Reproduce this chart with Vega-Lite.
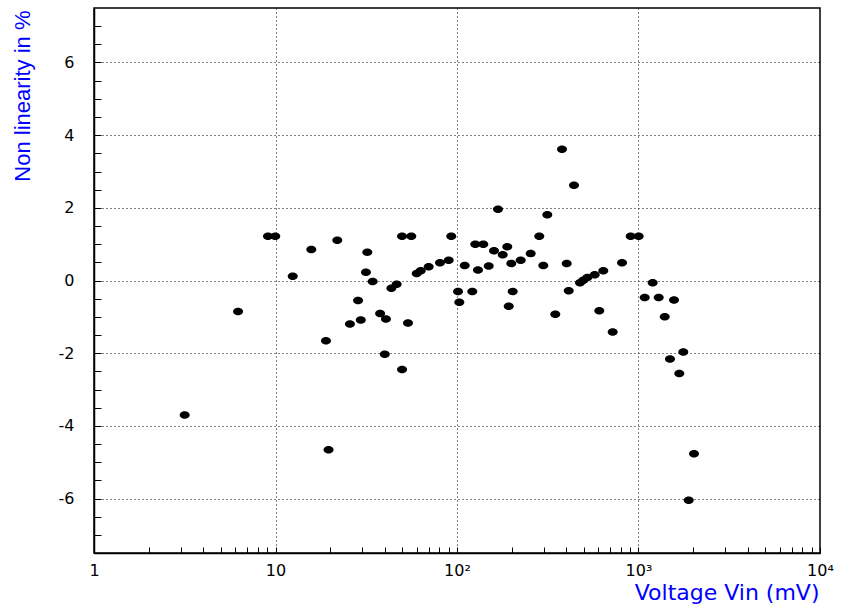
{
  "$schema": "https://vega.github.io/schema/vega-lite/v6.json",
  "width": 726,
  "height": 545,
  "autosize": "none",
  "padding": {"left": 94, "top": 8, "right": 24, "bottom": 54},
  "background": "white",
  "config": {"view": {"stroke": "#000", "strokeWidth": 1.5}},
  "data": {"values": [
    {"v": 3.16, "nl": -3.70}, {"v": 6.22, "nl": -0.85}, {"v": 9.09, "nl": 1.22}, {"v": 9.97, "nl": 1.22},
    {"v": 12.44, "nl": 0.12}, {"v": 15.75, "nl": 0.85}, {"v": 18.97, "nl": -1.66}, {"v": 19.6, "nl": -4.66},
    {"v": 21.9, "nl": 1.11}, {"v": 25.7, "nl": -1.20}, {"v": 28.5, "nl": -0.55}, {"v": 29.5, "nl": -1.09},
    {"v": 31.5, "nl": 0.23}, {"v": 32.05, "nl": 0.78}, {"v": 34.3, "nl": -0.03}, {"v": 37.7, "nl": -0.91},
    {"v": 40.0, "nl": -2.03}, {"v": 40.6, "nl": -1.06}, {"v": 43.5, "nl": -0.21}, {"v": 46.5, "nl": -0.10},
    {"v": 49.8, "nl": 1.22}, {"v": 49.8, "nl": -2.45}, {"v": 53.7, "nl": -1.17}, {"v": 56.0, "nl": 1.22},
    {"v": 60.0, "nl": 0.19}, {"v": 63.1, "nl": 0.27}, {"v": 69.8, "nl": 0.38}, {"v": 80.6, "nl": 0.49},
    {"v": 90.0, "nl": 0.56}, {"v": 93.0, "nl": 1.22}, {"v": 101.3, "nl": -0.30}, {"v": 103.0, "nl": -0.60},
    {"v": 110.3, "nl": 0.41}, {"v": 121.4, "nl": -0.30}, {"v": 126.1, "nl": 1.0}, {"v": 130.5, "nl": 0.29},
    {"v": 139.6, "nl": 1.0}, {"v": 149.5, "nl": 0.40}, {"v": 159.9, "nl": 0.82}, {"v": 168.2, "nl": 1.96},
    {"v": 178.6, "nl": 0.71}, {"v": 189.3, "nl": 0.93}, {"v": 192.7, "nl": -0.71}, {"v": 199.2, "nl": 0.47},
    {"v": 202.7, "nl": -0.30}, {"v": 224.4, "nl": 0.56}, {"v": 254.7, "nl": 0.74}, {"v": 284.0, "nl": 1.22},
    {"v": 298.9, "nl": 0.41}, {"v": 314.5, "nl": 1.81}, {"v": 348, "nl": -0.93}, {"v": 378.9, "nl": 3.61},
    {"v": 402.2, "nl": 0.47}, {"v": 412.5, "nl": -0.28}, {"v": 441.2, "nl": 2.62}, {"v": 476.1, "nl": -0.06},
    {"v": 496.5, "nl": 0.01}, {"v": 522.5, "nl": 0.08}, {"v": 573.8, "nl": 0.16}, {"v": 608, "nl": -0.83},
    {"v": 639.8, "nl": 0.27}, {"v": 720.8, "nl": -1.42}, {"v": 811.5, "nl": 0.49}, {"v": 905.8, "nl": 1.22},
    {"v": 1002, "nl": 1.22}, {"v": 1082, "nl": -0.47}, {"v": 1197, "nl": -0.06}, {"v": 1292, "nl": -0.47},
    {"v": 1395, "nl": -1.00}, {"v": 1491, "nl": -2.16}, {"v": 1569, "nl": -0.54}, {"v": 1678, "nl": -2.56},
    {"v": 1765, "nl": -1.97}, {"v": 1891, "nl": -6.05}, {"v": 2022, "nl": -4.77}
  ]},
  "mark": {
    "type": "point",
    "filled": true,
    "color": "#000",
    "opacity": 1,
    "size": 100,
    "shape": "M -1 0 A 1 0.75 0 1 1 1 0 A 1 0.75 0 1 1 -1 0 Z"
  },
  "encoding": {
    "x": {
      "field": "v",
      "type": "quantitative",
      "scale": {"type": "log", "domain": [1, 10000], "nice": false},
      "axis": {
        "title": "Voltage Vin (mV)",
        "titleColor": "#0000ff",
        "titleFont": "DejaVu Sans",
        "titleFontSize": 22,
        "titleFontWeight": "normal",
        "titleAnchor": "end",
        "titleAlign": "right",
        "titleBaseline": "alphabetic",
        "titleX": 725,
        "titleY": 46,
        "values": [1,2,3,4,5,6,7,8,9,10,20,30,40,50,60,70,80,90,100,200,300,400,500,600,700,800,900,1000,2000,3000,4000,5000,6000,7000,8000,9000,10000],
        "labelExpr": "datum.value == 1 ? '1' : datum.value == 10 ? '10' : datum.value == 100 ? '10²' : datum.value == 1000 ? '10³' : datum.value == 10000 ? '10⁴' : ''",
        "labelFont": "DejaVu Sans",
        "labelFontSize": 16,
        "labelColor": "#000",
        "labelOverlap": false,
        "labelFlush": false,
        "labelBound": false,
        "labelPadding": 15,
        "tickSize": -6,
        "tickColor": "#000",
        "tickWidth": 1,
        "domainColor": "#000",
        "domainWidth": 1.5,
        "grid": true,
        "gridColor": "#000",
        "gridDash": [1, 3],
        "gridWidth": 1,
        "gridOpacity": {"condition": {"test": "datum.value == 10 || datum.value == 100 || datum.value == 1000", "value": 1}, "value": 0}
      }
    },
    "y": {
      "field": "nl",
      "type": "quantitative",
      "scale": {"domain": [-7.5, 7.5], "nice": false, "zero": false},
      "axis": {
        "title": "Non linearity in %",
        "titleColor": "#0000ff",
        "titleFont": "Liberation Sans",
        "titleFontSize": 22,
        "titleFontWeight": "normal",
        "titleAngle": -90,
        "titleAnchor": "end",
        "titleAlign": "right",
        "titleBaseline": "middle",
        "titleX": -72,
        "titleY": 2,
        "values": [-7,-6.5,-6,-5.5,-5,-4.5,-4,-3.5,-3,-2.5,-2,-1.5,-1,-0.5,0,0.5,1,1.5,2,2.5,3,3.5,4,4.5,5,5.5,6,6.5,7],
        "labelExpr": "datum.value % 2 == 0 ? '' + datum.value : ''",
        "labelFont": "DejaVu Sans",
        "labelFontSize": 16,
        "labelColor": "#000",
        "labelOverlap": false,
        "labelFlush": false,
        "labelBound": false,
        "labelPadding": 27,
        "tickSize": -7,
        "tickColor": "#000",
        "tickWidth": 1,
        "domainColor": "#000",
        "domainWidth": 1.5,
        "grid": true,
        "gridColor": "#000",
        "gridDash": [1, 3],
        "gridWidth": 1,
        "gridOpacity": {"condition": {"test": "datum.value % 2 == 0 && abs(datum.value) < 7", "value": 1}, "value": 0}
      }
    }
  }
}
